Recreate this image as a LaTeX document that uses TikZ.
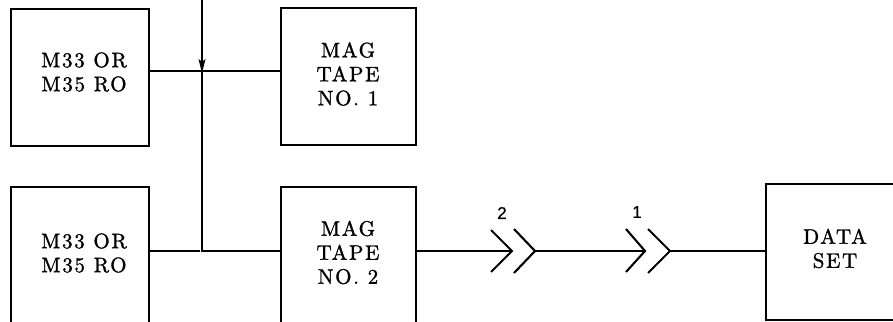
\documentclass[tikz,border=0pt]{standalone}
\usepackage{fontspec}
\setmainfont{lmroman10-regular.otf}[LetterSpace=8, FakeBold=1.2]
\newfontfamily\labfont{Liberation Sans}[FakeBold=0.8]
\usetikzlibrary{arrows.meta}
\tikzset{
  blockbox/.style={draw, line width=1.8pt, minimum width=138pt, inner sep=0pt},
  blocktext/.style={align=center, inner sep=0pt, font=\fontsize{21}{24}\selectfont},
  wire/.style={line width=1.5pt},
  chev/.style={line width=2.1pt},
  numlabel/.style={inner sep=0pt, font=\labfont\fontsize{17}{19}\selectfont}
}
\begin{document}
\begin{tikzpicture}[x=1pt,y=-1pt]
\useasboundingbox (0,0) rectangle (893,321);
\clip (0,0) rectangle (893,321);
% boxes
\node[blockbox, minimum height=137pt] (A) at (80,77.5) {};
\node[blockbox, minimum height=144pt] (C) at (80,259) {};
\node[blockbox, minimum width=135pt, minimum height=137pt] (B) at (348.5,76.5) {};
\node[blockbox, minimum width=135pt, minimum height=144pt] (D) at (348.5,259) {};
\node[blockbox, minimum height=136pt] (E) at (835,252) {};
% texts
\node[blocktext] (At) at (84,72) {M33 OR\\M35 RO};
\node[blocktext] (Ct) at (84,253) {M33 OR\\M35 RO};
\node[blocktext] (Bt) at (348,74) {MAG\\TAPE\\NO. 1};
\node[blocktext] (Dt) at (348,252.5) {MAG\\TAPE\\NO. 2};
\node[blocktext] (Et) at (835,248.5) {DATA\\SET};
% junctions
\coordinate (Top) at (202,0);
\coordinate (J1) at (202,71);
\coordinate (J2) at (202,251);
\coordinate (P2a) at (512,251);
\coordinate (P2b) at (535,251);
\coordinate (P1a) at (645,251);
\coordinate (P1b) at (670,251);
% connectors
\draw[wire, -{Stealth[length=14pt,width=7pt,inset=3pt]}] (Top) -- ([yshift=-2]J1);
\draw[wire] (A.east |- J1) -- (B.west |- J1);
\draw[wire] (J1) -- (J2) -- (D.west |- J2);
\draw[wire] (C.east |- J2) -- ([xshift=-2.5]J2);
\draw[wire] (D.east |- J2) -- (P2a);
\draw[wire] (P2b) -- (P1a);
\draw[wire] (P1b) -- (E.west |- J2);
% chevrons
\draw[chev] ([shift={(-21,-21)}]P2a) -- (P2a) -- ([shift={(-21,21)}]P2a);
\draw[chev] ([shift={(-21,-22)}]P2b) -- (P2b) -- ([shift={(-21,22)}]P2b);
\draw[chev] ([shift={(-19,-22)}]P1a) -- (P1a) -- ([shift={(-19,21)}]P1a);
\draw[chev] ([shift={(-22,-22)}]P1b) -- (P1b) -- ([shift={(-22,22)}]P1b);
% connector numbers
\node[numlabel] (L2) at (502,213) {2};
\node[numlabel] (L1) at (637,212) {1};
\end{tikzpicture}
\end{document}
